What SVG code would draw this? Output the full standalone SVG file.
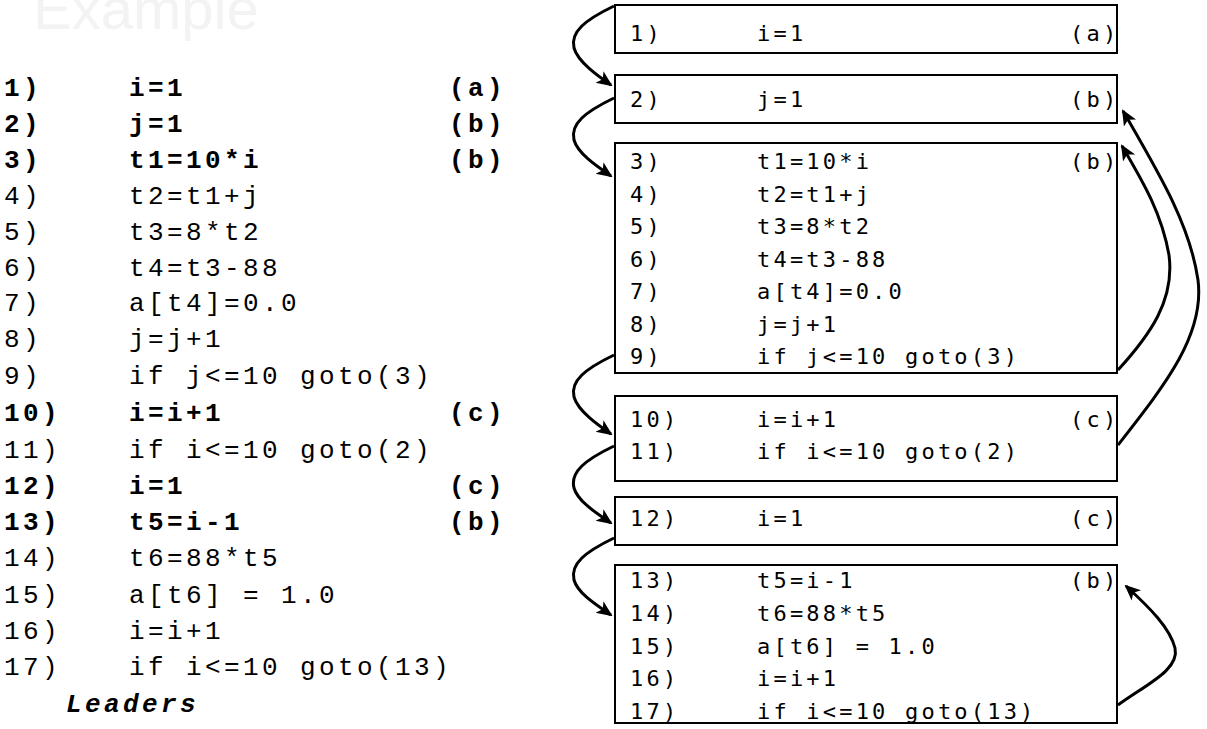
<svg xmlns="http://www.w3.org/2000/svg" width="1207" height="729" viewBox="0 0 1207 729">
<style>
.l{font-family:"Liberation Mono","Courier New",monospace;font-size:26px;letter-spacing:3.4px;fill:#000}
.b{font-weight:bold}
.r{font-family:"DejaVu Sans Mono",monospace;font-size:22px;letter-spacing:3.2px;fill:#000}
.box{fill:#fff;stroke:#000;stroke-width:2}
.c{fill:none;stroke:#000;stroke-width:3}
</style>
<defs>
<marker id="ah" markerWidth="16" markerHeight="16" refX="14" refY="8" orient="auto" markerUnits="userSpaceOnUse" viewBox="0 0 16 16">
<path d="M0,1 L16,8 L0,15 L4,8 z" fill="#000"/>
</marker>
</defs>
<rect width="1207" height="729" fill="#fff"/>
<text x="33" y="29" font-family="Liberation Sans, Arial, sans-serif" font-size="58" fill="#f3f3f3">Example</text>

<g id="leaders">
<text class="l b" x="4" y="96">1)</text><text class="l b" x="129" y="96">i=1</text><text class="l b" x="449" y="96">(a)</text>
<text class="l b" x="4" y="132">2)</text><text class="l b" x="129" y="132">j=1</text><text class="l b" x="449" y="132">(b)</text>
<text class="l b" x="4" y="168">3)</text><text class="l b" x="129" y="168">t1=10*i</text><text class="l b" x="449" y="168">(b)</text>
<text class="l" x="4" y="204">4)</text><text class="l" x="129" y="204">t2=t1+j</text>
<text class="l" x="4" y="240">5)</text><text class="l" x="129" y="240">t3=8*t2</text>
<text class="l" x="4" y="276">6)</text><text class="l" x="129" y="276">t4=t3-88</text>
<text class="l" x="4" y="311">7)</text><text class="l" x="129" y="311">a[t4]=0.0</text>
<text class="l" x="4" y="347">8)</text><text class="l" x="129" y="347">j=j+1</text>
<text class="l" x="4" y="384">9)</text><text class="l" x="129" y="384">if j&lt;=10 goto(3)</text>
<text class="l b" x="4" y="421">10)</text><text class="l b" x="129" y="421">i=i+1</text><text class="l b" x="449" y="421">(c)</text>
<text class="l" x="4" y="458">11)</text><text class="l" x="129" y="458">if i&lt;=10 goto(2)</text>
<text class="l b" x="4" y="494">12)</text><text class="l b" x="129" y="494">i=1</text><text class="l b" x="449" y="494">(c)</text>
<text class="l b" x="4" y="530">13)</text><text class="l b" x="129" y="530">t5=i-1</text><text class="l b" x="449" y="530">(b)</text>
<text class="l" x="4" y="566">14)</text><text class="l" x="129" y="566">t6=88*t5</text>
<text class="l" x="4" y="603">15)</text><text class="l" x="129" y="603">a[t6] = 1.0</text>
<text class="l" x="4" y="639">16)</text><text class="l" x="129" y="639">i=i+1</text>
<text class="l" x="4" y="675">17)</text><text class="l" x="129" y="675">if i&lt;=10 goto(13)</text>
<text class="l b" x="66" y="712" font-style="italic" letter-spacing="1.5">Leaders</text>
</g>

<g id="block1">
<rect class="box" x="615" y="5" width="502" height="48"/>
<text class="r" x="630" y="41">1)</text><text class="r" x="757" y="41">i=1</text><text class="r" x="1070" y="41">(a)</text>
</g>
<g id="block2">
<rect class="box" x="615" y="75" width="502" height="48"/>
<text class="r" x="630" y="107">2)</text><text class="r" x="757" y="107">j=1</text><text class="r" x="1070" y="107">(b)</text>
</g>
<g id="block3">
<rect class="box" x="615" y="143" width="502" height="230"/>
<text class="r" x="630" y="169">3)</text><text class="r" x="757" y="169">t1=10*i</text><text class="r" x="1070" y="169">(b)</text>
<text class="r" x="630" y="202">4)</text><text class="r" x="757" y="202">t2=t1+j</text>
<text class="r" x="630" y="234">5)</text><text class="r" x="757" y="234">t3=8*t2</text>
<text class="r" x="630" y="267">6)</text><text class="r" x="757" y="267">t4=t3-88</text>
<text class="r" x="630" y="299">7)</text><text class="r" x="757" y="299">a[t4]=0.0</text>
<text class="r" x="630" y="332">8)</text><text class="r" x="757" y="332">j=j+1</text>
<text class="r" x="630" y="364">9)</text><text class="r" x="757" y="364">if j&lt;=10 goto(3)</text>
</g>
<g id="block4">
<rect class="box" x="615" y="396" width="502" height="85"/>
<text class="r" x="630" y="427">10)</text><text class="r" x="757" y="427">i=i+1</text><text class="r" x="1070" y="427">(c)</text>
<text class="r" x="630" y="459">11)</text><text class="r" x="757" y="459">if i&lt;=10 goto(2)</text>
</g>
<g id="block5">
<rect class="box" x="615" y="497" width="502" height="48"/>
<text class="r" x="630" y="526">12)</text><text class="r" x="757" y="526">i=1</text><text class="r" x="1070" y="526">(c)</text>
</g>
<g id="block6">
<rect class="box" x="615" y="565" width="502" height="158"/>
<text class="r" x="630" y="588">13)</text><text class="r" x="757" y="588">t5=i-1</text><text class="r" x="1070" y="588">(b)</text>
<text class="r" x="630" y="621">14)</text><text class="r" x="757" y="621">t6=88*t5</text>
<text class="r" x="630" y="654">15)</text><text class="r" x="757" y="654">a[t6] = 1.0</text>
<text class="r" x="630" y="686">16)</text><text class="r" x="757" y="686">i=i+1</text>
<text class="r" x="630" y="719">17)</text><text class="r" x="757" y="719">if i&lt;=10 goto(13)</text>
</g>

<g id="connectors">
<path class="c" marker-end="url(#ah)" d="M614,6 C585,20 570,32 574,48 C578,62 598,76 611,85"/>
<path class="c" marker-end="url(#ah)" d="M614,98 C585,112 570,124 574,140 C578,154 598,167 611,176"/>
<path class="c" marker-end="url(#ah)" d="M614,355 C585,369 570,381 574,397 C578,411 598,425 611,434"/>
<path class="c" marker-end="url(#ah)" d="M614,446 C585,460 570,472 574,488 C578,502 598,514 611,523"/>
<path class="c" marker-end="url(#ah)" d="M614,538 C585,552 570,564 574,580 C578,594 598,606 611,615"/>
<path class="c" marker-end="url(#ah)" d="M1118,370 C1150,335 1175,300 1169,255 C1162,215 1145,185 1122,146"/>
<path class="c" marker-end="url(#ah)" d="M1118,445 C1165,385 1205,335 1198,280 C1190,225 1160,175 1123,111"/>
<path class="c" marker-end="url(#ah)" d="M1118,705 C1145,685 1180,670 1175,648 C1170,628 1150,608 1126,586"/>
</g>
</svg>
